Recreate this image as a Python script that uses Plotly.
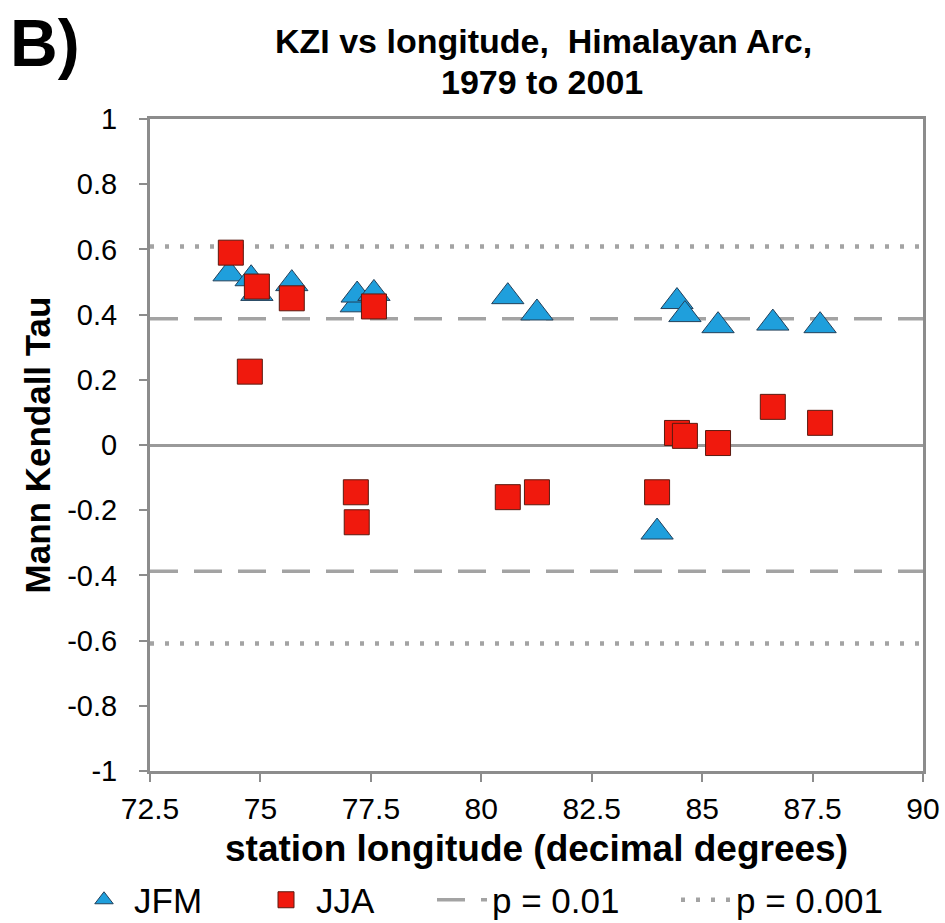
import plotly.graph_objects as go

# ---- data ----
jfm_lon = [74.29, 74.79, 74.92, 75.71, 77.17, 77.19, 77.57, 80.60, 81.26, 83.98, 84.43, 84.61, 85.36, 86.60, 87.67]
jfm_tau = [0.525, 0.51, 0.465, 0.495, 0.43, 0.46, 0.465, 0.455, 0.405, -0.267, 0.44, 0.40, 0.366, 0.374, 0.366]

jja_lon = [74.33, 74.76, 74.92, 75.71, 77.16, 77.18, 77.57, 80.60, 81.26, 83.98, 84.43, 84.61, 85.36, 86.60, 87.67]
jja_tau = [0.59, 0.225, 0.486, 0.45, -0.145, -0.237, 0.425, -0.16, -0.145, -0.145, 0.037, 0.028, 0.006, 0.117, 0.068]

x_range = [72.5, 90]
p01 = 0.387
p001 = 0.609

x_ticks = [72.5, 75, 77.5, 80, 82.5, 85, 87.5, 90]
x_ticklabels = ["72.5", "75", "77.5", "80", "82.5", "85", "87.5", "90"]
y_ticks = [1, 0.8, 0.6, 0.4, 0.2, 0, -0.2, -0.4, -0.6, -0.8, -1]
y_ticklabels = ["1", "0.8", "0.6", "0.4", "0.2", "0", "-0.2", "-0.4", "-0.6", "-0.8", "-1"]

# ---- layout geometry (pixels) ----
W, H = 945, 923
L, R, T, B = 150, 22, 119, 152
PW, PH = W - L - R, H - T - B


def px(xp):
    return (xp - L) / PW


def py(yp):
    return (H - B - yp) / PH


FONT = "Liberation Sans, Arial, sans-serif"
GRAY = "#a3a3a3"
AXIS = "#8c8c8c"

fig = go.Figure()

fig.add_trace(go.Scatter(
    x=[x_range[0], x_range[1], None, x_range[0], x_range[1]],
    y=[p01, p01, None, -p01, -p01], mode="lines", name="p = 0.01",
    line=dict(color=GRAY, width=3.5, dash="28px,16px"), legend="legend3",
))
fig.add_trace(go.Scatter(
    x=[x_range[0], x_range[1], None, x_range[0], x_range[1]],
    y=[p001, p001, None, -p001, -p001], mode="lines", name="p = 0.001",
    line=dict(color=GRAY, width=4.5, dash="4px,11px"), legend="legend4",
))
fig.add_trace(go.Scatter(
    x=jfm_lon, y=jfm_tau, mode="markers", name="JFM",
    marker=dict(symbol="triangle-up", size=28, color="#1f9fdc",
                line=dict(color="#23405a", width=1)), legend="legend",
))
fig.add_trace(go.Scatter(
    x=jja_lon, y=jja_tau, mode="markers", name="JJA",
    marker=dict(symbol="square", size=25, color="#f0190d",
                line=dict(color="#5a1a10", width=1)), legend="legend2",
))

LEG_Y = py(900)
leg_common = dict(orientation="h", yanchor="middle", y=LEG_Y, xanchor="left",
                  font=dict(family=FONT, size=35, color="black"),
                  bgcolor="rgba(0,0,0,0)", itemwidth=50, borderwidth=0)

fig.update_layout(
    width=W, height=H,
    margin=dict(l=L, r=R, t=T, b=B, autoexpand=False),
    paper_bgcolor="white", plot_bgcolor="white",
    font=dict(family=FONT, color="black", size=30),
    showlegend=True,
    legend=dict(leg_common, x=px(74)),
    legend2=dict(leg_common, x=px(256)),
    legend3=dict(leg_common, x=px(432)),
    legend4=dict(leg_common, x=px(676)),
    annotations=[
        dict(text="<b>B)</b>", x=px(8), y=py(4), xref="paper", yref="paper",
             showarrow=False, xanchor="left", yanchor="top",
             font=dict(family=FONT, size=66, color="black")),
        dict(text="<b>KZI vs longitude,  Himalayan Arc,</b>", x=px(543), y=py(41),
             xref="paper", yref="paper", showarrow=False,
             xanchor="center", yanchor="middle",
             font=dict(family=FONT, size=34, color="black")),
        dict(text="<b>1979 to 2001</b>", x=px(542), y=py(82),
             xref="paper", yref="paper", showarrow=False,
             xanchor="center", yanchor="middle",
             font=dict(family=FONT, size=34, color="black")),
    ],
)

fig.update_xaxes(
    range=x_range, tickvals=x_ticks, ticktext=x_ticklabels,
    showgrid=False, zeroline=False,
    showline=True, linecolor=AXIS, linewidth=3, mirror=True,
    ticks="outside", ticklen=8, tickwidth=2, tickcolor=AXIS,
    ticklabelstandoff=1,
    tickfont=dict(family=FONT, size=30, color="black"),
    title=dict(text="<b>station longitude (decimal degrees)</b>",
               font=dict(family=FONT, size=37, color="black"), standoff=12),
)
fig.update_yaxes(
    range=[-1, 1], tickvals=y_ticks, ticktext=y_ticklabels,
    showgrid=False, zeroline=True, zerolinecolor="#9a9a9a", zerolinewidth=3,
    showline=True, linecolor=AXIS, linewidth=3, mirror=True,
    ticks="outside", ticklen=8, tickwidth=2, tickcolor=AXIS,
    ticklabelstandoff=16,
    tickfont=dict(family=FONT, size=29, color="black"),
    title=dict(text="<b>Mann Kendall Tau</b>",
               font=dict(family=FONT, size=35, color="black"), standoff=6),
)

fig.write_html("out.html")
